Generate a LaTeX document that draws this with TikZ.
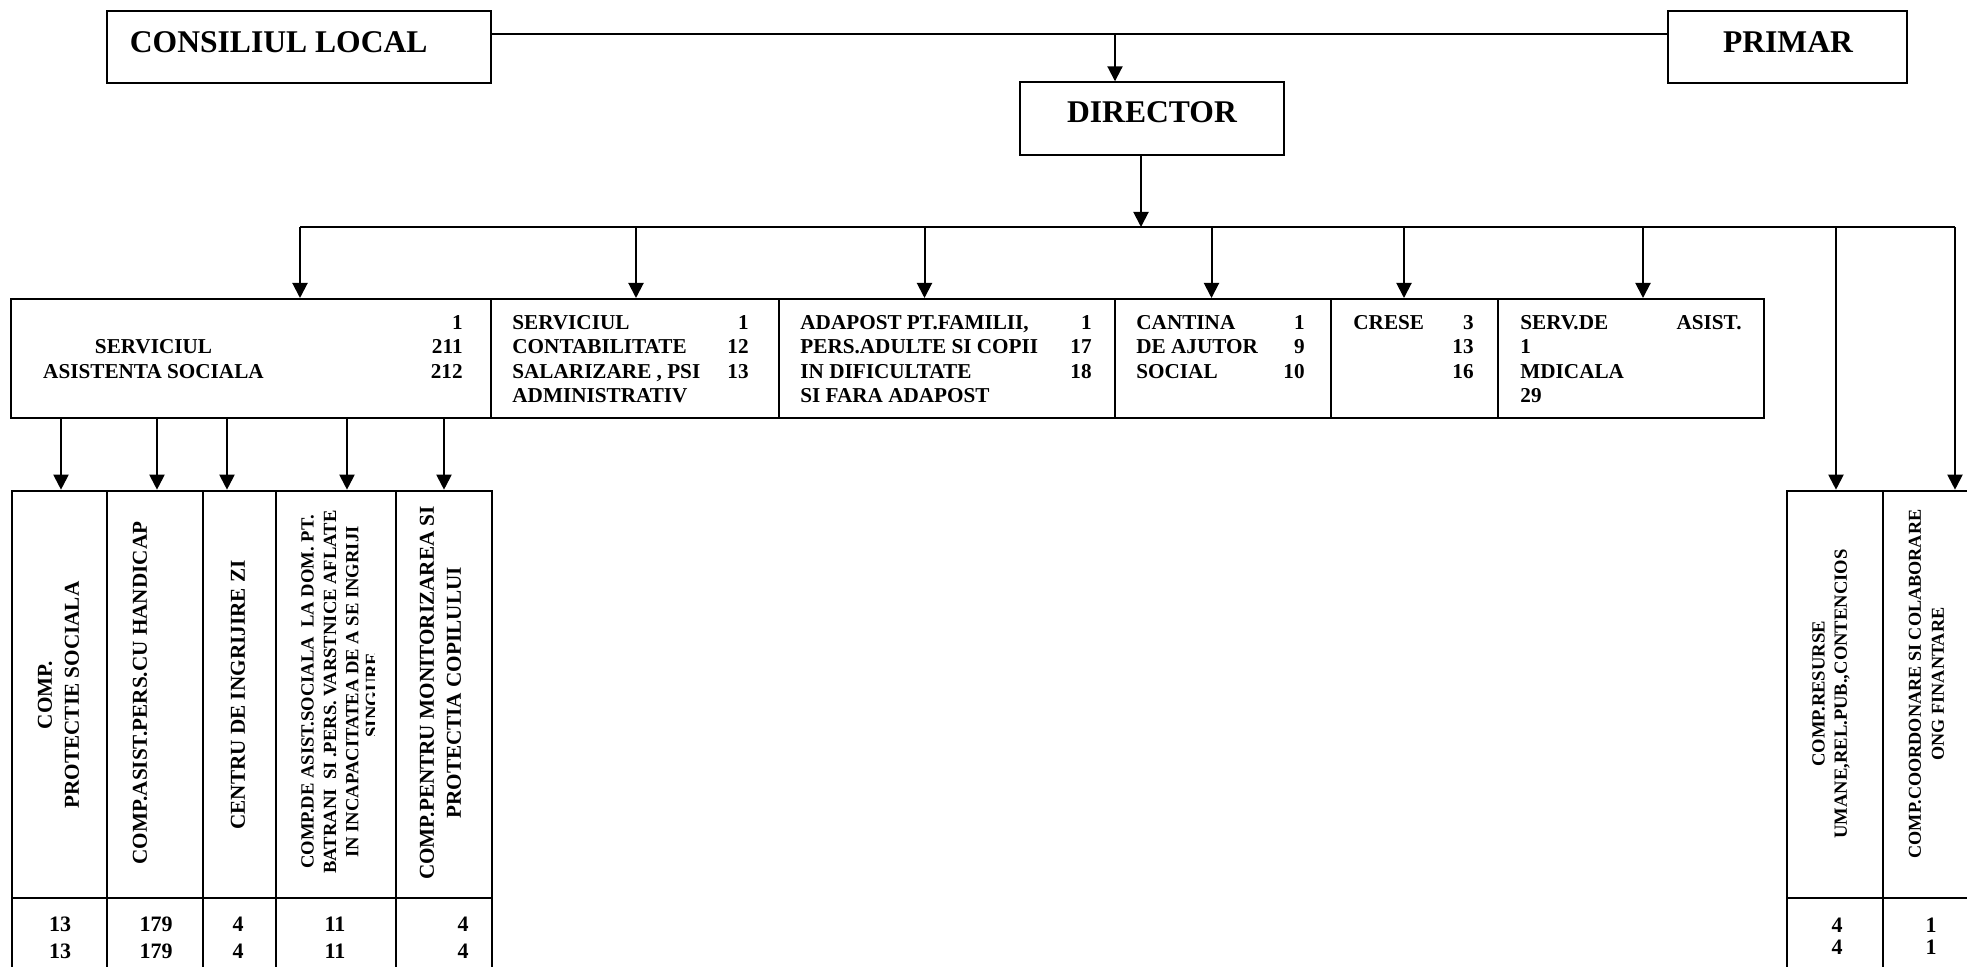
\documentclass[tikz,border=0pt]{standalone}
\usepackage{fontspec}
\setmainfont{Liberation Serif}
\usetikzlibrary{arrows.meta,fit}
\begin{document}
\begin{tikzpicture}[x=0.5pt,y=-0.5pt,
 lw/.style={line width=1pt},
 box/.style={draw,lw,rectangle,inner sep=0pt},
 arr/.style={lw,-{Triangle[length=7.5pt,width=7.5pt]}},
 big/.style={font=\fontsize{15.8}{19}\selectfont\bfseries,inner sep=0pt},
 rt/.style={font=\fontsize{10.6}{12.5}\selectfont\bfseries,inner sep=0pt,anchor=base west},
 rn/.style={font=\fontsize{10.6}{12.5}\selectfont\bfseries,inner sep=0pt,anchor=base east},
 rc/.style={font=\fontsize{10.6}{12.5}\selectfont\bfseries,inner sep=0pt,anchor=base},
 vt/.style={font=\fontsize{10.6}{13.5}\selectfont\bfseries,inner sep=0pt,rotate=90,align=center},
 vs/.style={font=\fontsize{9.3}{11.2}\selectfont\bfseries,inner sep=0pt,rotate=90,align=center},
 vc/.style={font=\fontsize{9.1}{11.5}\selectfont\bfseries,inner sep=0pt,rotate=90,align=center},
 num/.style={font=\fontsize{11}{13}\selectfont\bfseries,inner sep=0pt,anchor=base},
]
\useasboundingbox (0,0) rectangle (1967,967);
% top level
\node[box,fit={(107,10.7) (491,82.7)}] (cl) {};
\node[box,fit={(1668,10.7) (1907,82.7)}] (pr) {};
\node[box,fit={(1020,82.3) (1284,155)}] (dir) {};
\node[big,anchor=base west] (clt) at (129.5,53) {CONSILIUL LOCAL};
\node[big,anchor=base] (prt) at (1788,53) {PRIMAR};
\node[big,anchor=base] (dirt) at (1152,123) {DIRECTOR};
\coordinate (hl) at (0,34.3);
\draw[lw] (cl.east |- hl) -- (pr.west |- hl);
\coordinate (j1) at (1115,34.3);
\draw[arr] (j1) -- (j1 |- dir.north);
\coordinate (d1) at (1141,227);
\draw[arr] (d1 |- dir.south) -- (d1);
\coordinate (bl) at (300,227);
\coordinate (br) at (1955,227);
\draw[lw] (bl) -- (br);
% row of services
\node[box,fit={(11,299) (491,418)}] (r1) {};
\node[box,fit={(491,299) (779,418)}] (r2) {};
\node[box,fit={(779,299) (1115,418)}] (r3) {};
\node[box,fit={(1115,299) (1331,418)}] (r4) {};
\node[box,fit={(1331,299) (1498,418)}] (r5) {};
\node[box,fit={(1498,299) (1764,418)}] (r6) {};
\foreach \x/\t in {300/r1,636/r2,924.5/r3,1211.5/r4,1404/r5,1643/r6}
  \draw[arr] (bl -| \x,0) -- (\t.north -| \x,0);
% row texts
\node[rn] (a1) at (463,330) {1};
\node[rn] (a2) at (463,354) {211};
\node[rn] (a3) at (463,379) {212};
\node[rc] (a4) at (153.5,354) {SERVICIUL};
\node[rc] (a5) at (153.5,379) {ASISTENTA SOCIALA};
\node[rt] (b1) at (512,330) {SERVICIUL};
\node[rt] (b2) at (512,354) {CONTABILITATE};
\node[rt] (b3) at (512,379) {SALARIZARE , PSI};
\node[rt] (b4) at (512,403) {ADMINISTRATIV};
\node[rn] (b5) at (749,330) {1};
\node[rn] (b6) at (749,354) {12};
\node[rn] (b7) at (749,379) {13};
\node[rt] (c1) at (800,330) {ADAPOST PT.FAMILII,};
\node[rt] (c2) at (800,354) {PERS.ADULTE SI COPII};
\node[rt] (c3) at (800,379) {IN DIFICULTATE};
\node[rt] (c4) at (800,403) {SI FARA ADAPOST};
\node[rn] (c5) at (1092,330) {1};
\node[rn] (c6) at (1092,354) {17};
\node[rn] (c7) at (1092,379) {18};
\node[rt] (d1t) at (1136,330) {CANTINA};
\node[rt] (d2t) at (1136,354) {DE AJUTOR};
\node[rt] (d3t) at (1136,379) {SOCIAL};
\node[rn] (d4t) at (1305,330) {1};
\node[rn] (d5t) at (1305,354) {9};
\node[rn] (d6t) at (1305,379) {10};
\node[rt] (e1) at (1353,330) {CRESE};
\node[rn] (e2) at (1474,330) {3};
\node[rn] (e3) at (1474,354) {13};
\node[rn] (e4) at (1474,379) {16};
\node[rt] (f1) at (1520,330) {SERV.DE};
\node[rn] (f2) at (1742,330) {ASIST.};
\node[rt] (f3) at (1520,354) {1};
\node[rt] (f4) at (1520,379) {MDICALA};
\node[rt] (f5) at (1520,403) {29};
% lower left compartments
\node[box,fit={(11.7,490.7) (107,898)}] (L1) {};
\node[box,fit={(107,490.7) (203,898)}] (L2) {};
\node[box,fit={(203,490.7) (276,898)}] (L3) {};
\node[box,fit={(276,490.7) (396,898)}] (L4) {};
\node[box,fit={(396,490.7) (492,898)}] (L5) {};
\node[box,fit={(11.7,898) (107,1000)}] (N1) {};
\node[box,fit={(107,898) (203,1000)}] (N2) {};
\node[box,fit={(203,898) (276,1000)}] (N3) {};
\node[box,fit={(276,898) (396,1000)}] (N4) {};
\node[box,fit={(396,898) (492,1000)}] (N5) {};
\foreach \x/\t in {61/L1,157/L2,227/L3,347/L4,444/L5}
  \draw[arr] (r1.south -| \x,0) -- (\t.north -| \x,0);
\node[vt] (l1t) at (58.5,695) {COMP.\\PROTECTIE SOCIALA};
\node[vt] (l2t) at (140,693) {COMP.ASIST.PERS.CU HANDICAP};
\node[vt] (l3t) at (238,695) {CENTRU DE INGRIJIRE ZI};
\node[vs] (l4t) at (330,692) {COMP.DE ASIST.SOCIALA\ \ LA DOM. PT.\\BATRANI\ \ SI .PERS. VARSTNICE AFLATE\\IN INCAPACITATEA DE A SE INGRIJI};
\begin{scope}
\clip (276,490) rectangle (374,898);
\node[vs] (l4s) at (372,695) {SINGURE};
\end{scope}
\node[vt] (l5t) at (440.5,693) {COMP.PENTRU MONITORIZAREA SI\\PROTECTIA COPILULUI};
\node[num] (n1a) at (60,932) {13};
\node[num] (n1b) at (60,958) {13};
\node[num] (n2a) at (156,932) {179};
\node[num] (n2b) at (156,958) {179};
\node[num] (n3a) at (238,932) {4};
\node[num] (n3b) at (238,958) {4};
\node[num] (n4a) at (335,932) {11};
\node[num] (n4b) at (335,958) {11};
\node[num] (n5a) at (463,932) {4};
\node[num] (n5b) at (463,958) {4};
% lower right compartments
\node[box,fit={(1787,490.7) (1883,898)}] (R1) {};
\node[box,fit={(1883,490.7) (2000,898)}] (R2) {};
\node[box,fit={(1787,898) (1883,1000)}] (S1) {};
\node[box,fit={(1883,898) (2000,1000)}] (S2) {};
\draw[arr] (br -| 1836,0) -- (R1.north -| 1836,0);
\draw[arr] (br) -- (br |- R2.north);
\node[vs] (r1t) at (1831,694) {COMP.RESURSE\\UMANE,REL.PUB.,CONTENCIOS};
\node[vc] (r2t) at (1926.5,684) {COMP.COORDONARE SI COLABORARE\\ONG FINANTARE};
\node[num] (m1a) at (1837,933) {4};
\node[num] (m1b) at (1837,955) {4};
\node[num] (m2a) at (1931,933) {1};
\node[num] (m2b) at (1931,955) {1};
\end{tikzpicture}
\end{document}
